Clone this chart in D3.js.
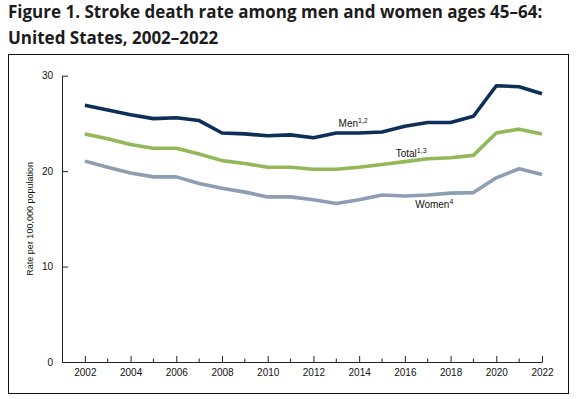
<!DOCTYPE html>
<html>
<head>
<meta charset="utf-8">
<script src="https://cdn.jsdelivr.net/npm/d3@7"></script>
<style>
  body { margin: 0; background: #fff; }
  svg { display: block; }
</style>
</head>
<body>
<svg id="chart" width="578" height="399"></svg>
<script>
// data
const years = [2002, 2003, 2004, 2005, 2006, 2007, 2008, 2009, 2010, 2011, 2012,
               2013, 2014, 2015, 2016, 2017, 2018, 2019, 2020, 2021, 2022];
const men   = [26.9, 26.4, 25.9, 25.5, 25.6, 25.3, 24.0, 23.9, 23.7, 23.8, 23.5,
               24.0, 24.0, 24.1, 24.7, 25.1, 25.1, 25.75, 28.95, 28.85, 28.1];
const total = [23.9, 23.4, 22.8, 22.4, 22.4, 21.8, 21.1, 20.8, 20.4, 20.4, 20.2,
               20.2, 20.4, 20.7, 21.0, 21.3, 21.4, 21.65, 24.0, 24.4, 23.9];
const women = [21.05, 20.4, 19.8, 19.4, 19.4, 18.7, 18.2, 17.8, 17.3, 17.3, 17.0,
               16.6, 17.0, 17.5, 17.4, 17.5, 17.7, 17.75, 19.3, 20.25, 19.65];
const yTicks = [0, 10, 20, 30];
const xTicks = [2002, 2004, 2006, 2008, 2010, 2012, 2014, 2016, 2018, 2020, 2022];

const series = [
  { name: "Men", sup: "1,2", values: men, color: "#0d2f58", label: [2013.1, 24.6] },
  { name: "Total", sup: "1,3", values: total, color: "#93b858", label: [2015.6, 21.5] },
  { name: "Women", sup: "4", values: women, color: "#8d9db2", label: [2016.45, 16.1] }
];

const svg = d3.select("#chart");

// title
const title = svg.append("text")
  .attr("x", 8)
  .style("font-family", "'Open Sans', Lato, sans-serif")
  .style("font-weight", 700)
  .style("font-size", "17px")
  .style("fill", "#1c1c1c");
title.append("tspan").attr("x", 8).attr("y", 18).text("Figure 1. Stroke death rate among men and women ages 45–64:");
title.append("tspan").attr("x", 8).attr("y", 43.5).text("United States, 2002–2022");

// frame
svg.append("rect")
  .attr("x", 8.5).attr("y", 54.5)
  .attr("width", 560).attr("height", 339)
  .attr("fill", "none")
  .attr("stroke", "#111")
  .attr("stroke-width", 1);

const x = d3.scaleLinear().domain([2001, 2022]).range([62, 542]);
const y = d3.scaleLinear().domain([0, 30]).range([362, 75.7]);

const font = "Arial, 'Liberation Sans', sans-serif";

// y axis
const yAxis = svg.append("g")
  .attr("transform", "translate(62,0)")
  .call(d3.axisLeft(y).tickValues(yTicks).tickSizeInner(-6).tickSizeOuter(0).tickPadding(9));
yAxis.select(".domain").attr("stroke", "#222");
yAxis.selectAll(".tick line").attr("stroke", "#222");
yAxis.selectAll("text").style("font-family", font).style("font-size", "10px").attr("fill", "#111");

// x axis
const xAxis = svg.append("g")
  .attr("transform", "translate(0,362)")
  .call(d3.axisBottom(x).tickValues(xTicks).tickFormat(d3.format("d")).tickSizeInner(-6).tickSizeOuter(0).tickPadding(7));
xAxis.select(".domain").attr("stroke", "#222");
xAxis.selectAll(".tick line").attr("stroke", "#222");
xAxis.selectAll("text").style("font-family", font).style("font-size", "10px").attr("fill", "#111");

// minor ticks on odd years
xAxis.selectAll(".minor")
  .data(years.filter(d => d % 2 === 1))
  .enter()
  .append("line")
  .attr("class", "minor")
  .attr("x1", d => x(d)).attr("x2", d => x(d))
  .attr("y1", 0).attr("y2", -3.5)
  .attr("stroke", "#222");

// y axis title
svg.append("text")
  .attr("transform", `translate(33,${(y(0) + y(30)) / 2}) rotate(-90)`)
  .attr("text-anchor", "middle")
  .style("font-family", font)
  .style("font-size", "9px")
  .attr("fill", "#111")
  .text("Rate per 100,000 population");

// lines
const line = d3.line()
  .x((d, i) => x(years[i]))
  .y(d => y(d));

svg.selectAll(".series")
  .data(series)
  .enter()
  .append("path")
  .attr("class", "series")
  .attr("d", d => line(d.values))
  .attr("fill", "none")
  .attr("stroke", d => d.color)
  .attr("stroke-width", 3.6)
  .attr("stroke-linejoin", "round");

// line labels
const labels = svg.selectAll(".lbl")
  .data(series)
  .enter()
  .append("text")
  .attr("class", "lbl")
  .attr("x", d => x(d.label[0]))
  .attr("y", d => y(d.label[1]))
  .style("font-family", font)
  .style("font-size", "10px")
  .attr("fill", "#111");
labels.append("tspan").text(d => d.name);
labels.append("tspan")
  .attr("dy", -4)
  .style("font-size", "7px")
  .text(d => d.sup);
</script>
</body>
</html>
